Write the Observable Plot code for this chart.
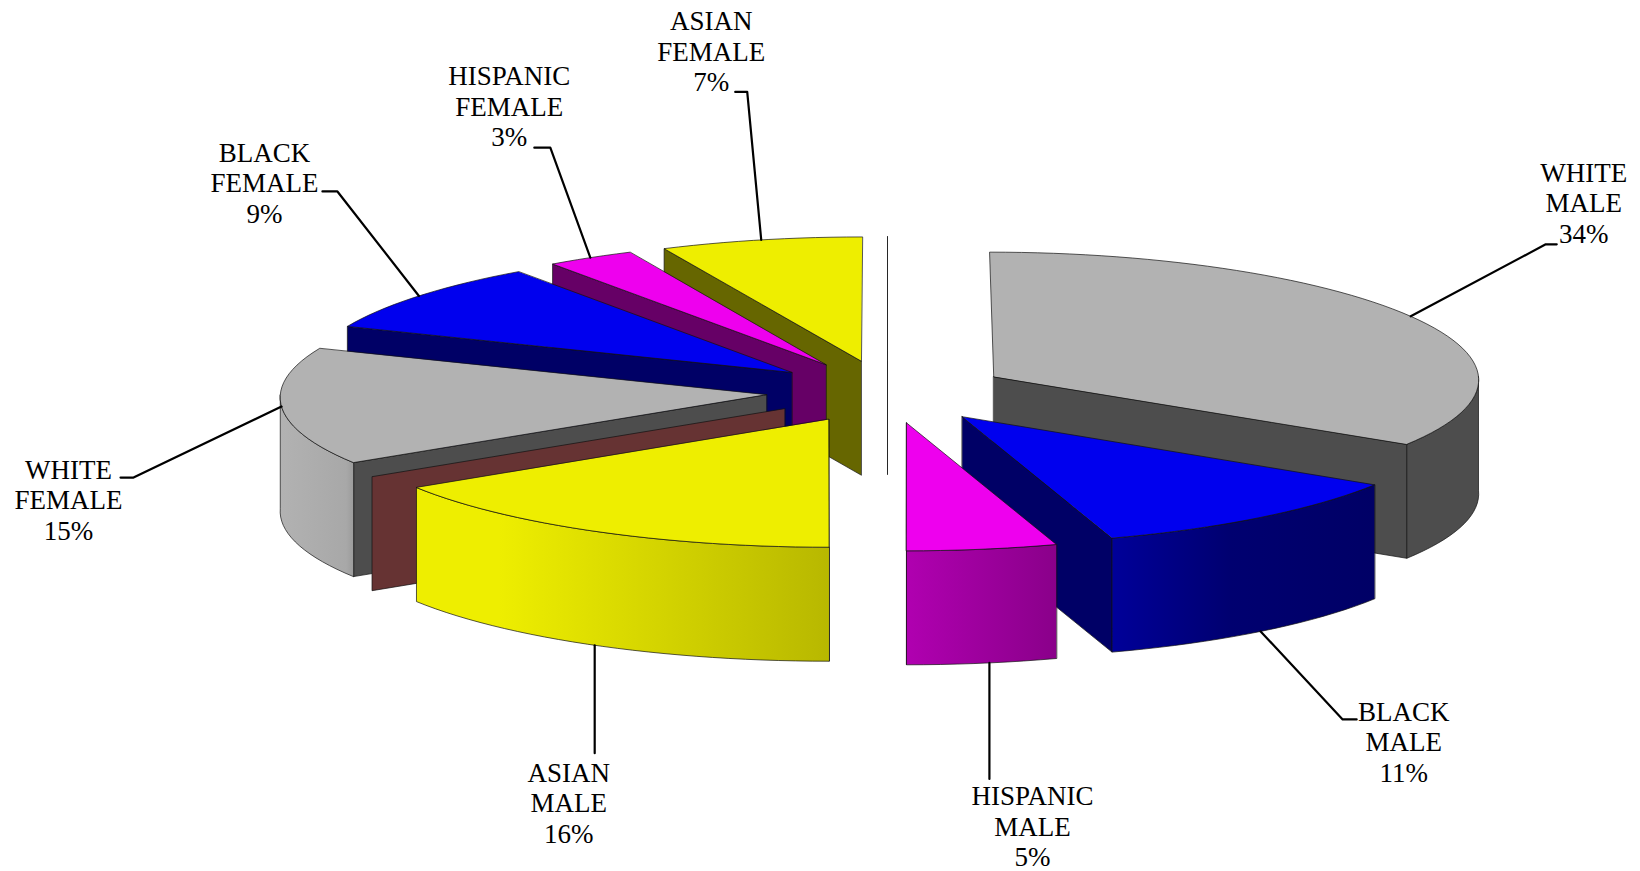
<!DOCTYPE html>
<html>
<head>
<meta charset="utf-8">
<script src="https://cdn.jsdelivr.net/npm/d3@7"></script>
<script src="https://cdn.jsdelivr.net/npm/@observablehq/plot@0.6"></script>
<style>
  html, body { margin: 0; padding: 0; background: #fff; overflow: hidden; }
  svg { display: block; }
</style>
</head>
<body>
<div id="chart"></div>
<script>
// Share of each group, clockwise from twelve o'clock. The two empty categories
// still occupy an edge of the exploded pie, so they stay in the list.
const groups = ["WHITE\nMALE", "BLACK\nMALE", "HISPANIC\nMALE", "ASIAN\nMALE", "", "WHITE\nFEMALE", "BLACK\nFEMALE", "HISPANIC\nFEMALE", "ASIAN\nFEMALE", ""];
const shares = [34, 11, 5, 16, 0, 15, 9, 3, 7, 0];

// Slice colours: upper surface, cut face, and the outer wall's horizontal shading.
const topColors = ["#b2b2b2", "#0000ee", "#ee00ee", "#eeee00", "#663333", "#b2b2b2", "#0000ee", "#ee00ee", "#eeee00", "#4d4d4d"];
const faceColors = ["#4d4d4d", "#000066", "#660066", "#666600", "#663333", "#4d4d4d", "#000066", "#660066", "#666600", "#4d4d4d"];
const wallStops = [
  [[0, "#4d4d4d"], [1, "#4d4d4d"]],
  [[0, "#000099"], [0.45, "#000070"], [1, "#000066"]],
  [[0, "#b000b0"], [1, "#8a008a"]],
  [[0, "#eeee00"], [0.2, "#eeee00"], [1, "#b8b800"]],
  null,
  [[0, "#b2b2b2"], [0.9, "#a8a8a8"], [1, "#9c9c9c"]],
  null, null, null, null
];

// Leader routing relative to each slice's rim point: elbow offset, tail length.
const elbowOffsets = [[135, -72], [82, 88], [0, 116], [0, 108], null, [-148, 71], [-81.5, -104.5], [-40, -110], [-14, -148], null];
const tailLengths = [11, 14, 0, 0, 0, -13, -15, -16, -12, 0];
// Small angular shift of a leader's attachment point along the rim, in degrees.
const attachShifts = [0, 0, -0.85, 0, 0, 0, 0, 0, 0, 0];
// Label centre relative to the elbow.
const labelOffsets = [[38, -42], [61, 22], [43, 47], [-26, 49], null, [-65, 22], [-73, -9], [-41, -41.5], [-36, -41], null];

// View of the pie: an ellipse whose width narrows toward the back and whose
// vertical scale opens slightly toward the viewer.
const view = {cx: 887, cy: 390, a: 486, b: 123.5, depth: 114, taper: 0.0185, bow: 0.0165, sag: 1.25, explode: 0.25};

const rad = (deg) => (deg * Math.PI) / 180;
const project = (u, v, drop = 0) => ({
  x: view.cx + view.a * u * (1 + view.taper * v - view.bow * v * v),
  y: view.cy + view.b * v + view.sag * (v + 1) * (v + 1) + drop
});

// Convert shares to angular spans.
let running = 0;
const slices = shares.map((share, i) => {
  const start = (running / 100) * 360;
  running += share;
  const end = (running / 100) * 360;
  const mid = (start + end) / 2;
  return {i, share, start, end, mid, ox: view.explode * Math.sin(rad(mid)), oy: -view.explode * Math.cos(rad(mid))};
});

const rimPoint = (s, deg, drop = 0) => project(s.ox + Math.sin(rad(deg)), s.oy - Math.cos(rad(deg)), drop);
const apexPoint = (s, drop = 0) => project(s.ox, s.oy, drop);
const arcAngles = (from, to) => {
  const n = Math.max(1, Math.ceil((to - from) / 2));
  return d3.range(n + 1).map((k) => from + ((to - from) * k) / n);
};

const facePolygon = (s, deg) => [apexPoint(s), rimPoint(s, deg), rimPoint(s, deg, view.depth), apexPoint(s, view.depth)];
const topPolygon = (s) => [apexPoint(s), ...arcAngles(s.start, s.end).map((d) => rimPoint(s, d))];
const wallPolygon = (s, from, to) => {
  const angles = arcAngles(from, to);
  return [...angles.map((d) => rimPoint(s, d)), ...angles.reverse().map((d) => rimPoint(s, d, view.depth))];
};

const edge = {x: "x", y: "y", curve: "linear-closed", stroke: "#111", strokeWidth: 0.7, strokeLinejoin: "round"};

// Each slice shows the cut face turned toward the viewer, its near wall and its top.
function sliceMarks(s) {
  const shown = s.mid < 180 ? s.end : s.start;
  const marks = [Plot.line(facePolygon(s, shown), {...edge, fill: faceColors[s.i]})];
  const from = Math.max(s.start, 90);
  const to = Math.min(s.end, 270);
  if (s.share > 0 && to > from) {
    marks.push(Plot.line(wallPolygon(s, from, to), {...edge, fill: `url(#wall-${s.i})`}));
  }
  if (s.share > 0) marks.push(Plot.line(topPolygon(s), {...edge, fill: topColors[s.i]}));
  return marks;
}

// Painter's order: rear left fan forward, then the right-hand slices.
const paintOrder = [9, 8, 7, 6, 5, 4, 3, 0, 1, 2];

// Gradient definitions for the outer walls.
const wallGradients = () => {
  const defs = d3.create("svg:defs");
  wallStops.forEach((stops, i) => {
    if (!stops) return;
    const g = defs.append("linearGradient").attr("id", `wall-${i}`).attr("x1", 0).attr("x2", 1).attr("y1", 0).attr("y2", 0);
    stops.forEach(([offset, color]) => g.append("stop").attr("offset", offset).attr("stop-color", color));
  });
  return defs.node();
};

// Leaders start on the rim at mid-slice; near-side slices use the wall's lower edge.
const callouts = slices.filter((s) => s.share > 0).map((s) => {
  const drop = -Math.cos(rad(s.mid)) > 0.3 ? view.depth : 0;
  const anchor = rimPoint(s, s.mid + attachShifts[s.i], drop);
  const [ex, ey] = elbowOffsets[s.i];
  const [lx, ly] = labelOffsets[s.i];
  const elbow = {x: anchor.x + ex, y: anchor.y + ey};
  return {
    path: [anchor, elbow, {x: elbow.x + tailLengths[s.i], y: elbow.y}],
    label: {x: elbow.x + lx, y: elbow.y + ly, text: `${groups[s.i]}\n${s.share}%`}
  };
});

const chart = Plot.plot({
  width: 1640,
  height: 871,
  margin: 0,
  x: {domain: [0, 1640], range: [0, 1640], axis: null},
  y: {domain: [0, 871], range: [0, 871], axis: null},
  marks: [
    wallGradients,
    ...paintOrder.flatMap((i) => sliceMarks(slices[i])),
    ...callouts.map((c) => Plot.line(c.path, {x: "x", y: "y", stroke: "#000", strokeWidth: 2.2})),
    Plot.text(callouts.map((c) => c.label), {
      x: "x",
      y: "y",
      text: "text",
      fontFamily: "Liberation Serif",
      fontSize: 27,
      lineHeight: 1.13,
      fill: "#000"
    })
  ]
});
document.getElementById("chart").append(chart);
</script>
</body>
</html>
